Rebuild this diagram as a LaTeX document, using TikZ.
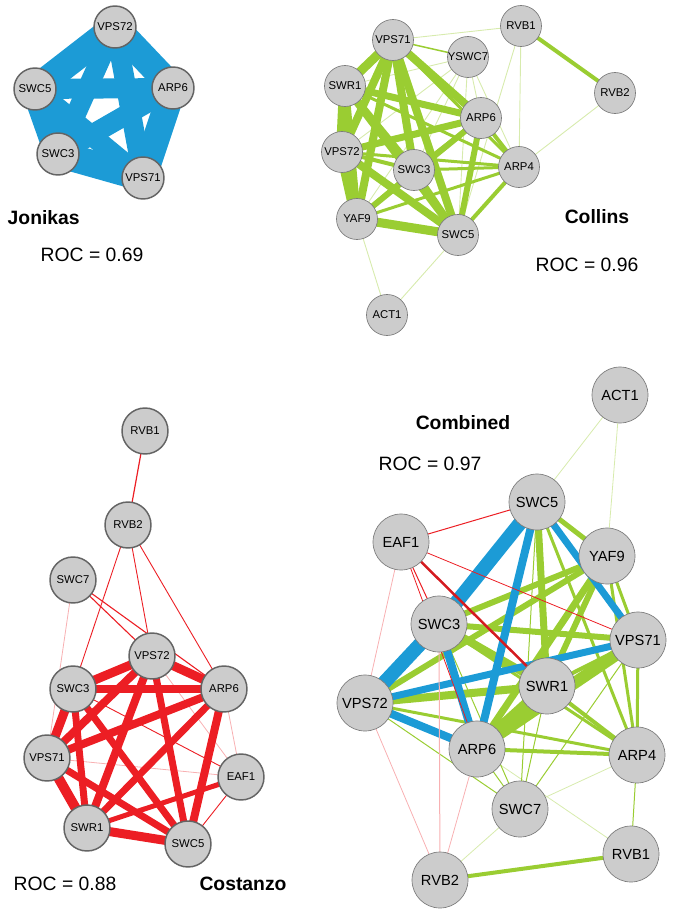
\documentclass[tikz,border=0pt]{standalone}
\usepackage{fontspec}
\setmainfont{Liberation Sans}
\usepackage{tikz}
\usetikzlibrary{backgrounds}
\usepackage{xcolor}
\definecolor{jonblue}{RGB}{28,155,214}
\definecolor{colgreen}{RGB}{154,205,50}
\definecolor{cosred}{RGB}{236,30,36}
\definecolor{nodegray}{RGB}{204,204,204}
\definecolor{rimgray}{RGB}{100,100,100}

\tikzset{
  gene/.style={circle, fill=nodegray, draw=rimgray, inner sep=0pt,
    font=\fontsize{8.5}{10}\selectfont},
  bigrim/.style={gene, line width=1.1pt, minimum size=#1},
  thinrim/.style={gene, draw=rimgray!85, line width=0.5pt, minimum size=#1},
  widegene/.style={thinrim=#1, font=\fontsize{11}{13}\selectfont},
  title/.style={font=\fontsize{14.5}{17}\selectfont\bfseries},
  roc/.style={font=\fontsize{14.5}{17}\selectfont},
  blu/.style={draw=jonblue, line width=#1*0.75pt},
  grn/.style={draw=colgreen, line width=#1*0.75pt},
  lgrn/.style={draw=colgreen!40, line width=#1*0.75pt},
  rd/.style={draw=cosred, line width=#1*0.75pt},
  lrd/.style={draw=cosred!35, line width=#1*0.75pt}
}

\begin{document}
\begin{tikzpicture}[x=0.75pt, y=-0.75pt]
  \useasboundingbox (0,0) rectangle (673,912);

  % Jonikas
  \foreach \n/\x/\y in {VPS72/115/27, SWC5/35/89, ARP6/173/88, SWC3/58/154, VPS71/143/178}
    \node[bigrim=31.5pt] (j\n) at (\x,\y) {\n};
  \node[title, anchor=west] (jonTitle) at (3,218) {Jonikas};
  \node[roc] (jonRoc) at (92,255) {ROC = 0.69};
  \begin{scope}[on background layer]
    \foreach \a/\b/\w in {VPS72/SWC5/27, VPS72/ARP6/27, ARP6/VPS71/27, VPS71/SWC3/27,
        SWC3/SWC5/27, VPS72/SWC3/20, VPS72/VPS71/20, SWC5/ARP6/20, SWC5/VPS71/20, ARP6/SWC3/20}
      \draw[blu=\w] (j\a.center) -- (j\b.center);
  \end{scope}

  % Collins
  \foreach \n/\x/\y in {VPS71/393/40, YSWC7/468/57, RVB1/521/26, RVB2/615/93, SWR1/345/86,
      ARP6/481/118, VPS72/342/152, SWC3/414/170, ARP4/519/167, YAF9/357/219,
      SWC5/458/235, ACT1/387/315}
    \node[thinrim=30.75pt] (c\n) at (\x,\y) {\n};
  \node[title] (colTitle) at (597,217) {Collins};
  \node[roc] (colRoc) at (587,265) {ROC = 0.96};
  \begin{scope}[on background layer]
    \foreach \a/\b in {VPS71/RVB1, YSWC7/SWR1, YSWC7/VPS72, YSWC7/SWC3, YSWC7/YAF9,
        YSWC7/ARP6, YSWC7/ARP4, YSWC7/SWC5, RVB1/ARP4, RVB1/SWC5, RVB2/ARP4,
        ACT1/YAF9, ACT1/SWC5}
      \draw[lgrn=0.9] (c\a.center) -- (c\b.center);
    \foreach \a/\b/\w in {VPS71/YSWC7/1.5, RVB1/RVB2/4,
        VPS71/SWR1/9, VPS71/VPS72/8, VPS71/YAF9/8, VPS71/SWC3/8, VPS71/SWC5/8,
        VPS71/ARP6/8, VPS71/ARP4/3, SWR1/VPS72/12, SWR1/YAF9/8, SWR1/SWC3/7,
        SWR1/SWC5/8, SWR1/ARP6/7, SWR1/ARP4/3, VPS72/YAF9/12, VPS72/SWC3/4,
        VPS72/SWC5/8, VPS72/ARP6/7, VPS72/ARP4/3, YAF9/SWC3/4, YAF9/SWC5/9,
        YAF9/ARP6/6, YAF9/ARP4/3, SWC3/SWC5/6, SWC3/ARP6/4, SWC3/ARP4/3,
        SWC5/ARP6/6, SWC5/ARP4/4, ARP6/ARP4/4}
      \draw[grn=\w] (c\a.center) -- (c\b.center);
  \end{scope}

  % Costanzo
  \foreach \n/\x/\y in {RVB1/145/431, RVB2/128/525, SWC7/73/580, VPS72/152/656,
      SWC3/73/689, ARP6/224/689, VPS71/47/758, EAF1/241/777, SWR1/87/828, SWC5/188/844}
    \node[bigrim=34.5pt] (k\n) at (\x,\y) {\n};
  \node[roc] (cosRoc) at (65,884) {ROC = 0.88};
  \node[title] (cosTitle) at (243,884) {Costanzo};
  \begin{scope}[on background layer]
    \foreach \a/\b in {SWC7/VPS71, VPS72/EAF1, ARP6/EAF1, VPS71/EAF1}
      \draw[lrd=0.8] (k\a.center) -- (k\b.center);
    \foreach \a/\b/\w in {RVB1/RVB2/1.2, RVB2/SWC3/0.9, RVB2/VPS72/0.9, RVB2/ARP6/0.9,
        SWC7/VPS72/1.1, SWC7/ARP6/1.1, SWC5/EAF1/0.9, SWC3/EAF1/0.9,
        VPS72/SWC3/9, VPS72/ARP6/9, VPS72/VPS71/8, VPS72/SWR1/8, VPS72/SWC5/7,
        SWC3/ARP6/8, SWC3/VPS71/9, SWC3/SWR1/7, SWC3/SWC5/7, ARP6/VPS71/8,
        ARP6/SWR1/7, ARP6/SWC5/8, VPS71/SWR1/10, VPS71/SWC5/7, SWR1/SWC5/9,
        SWR1/EAF1/5}
      \draw[rd=\w] (k\a.center) -- (k\b.center);
  \end{scope}

  % Combined
  \foreach \n/\x/\y in {ACT1/620/395, SWC5/537/502, EAF1/401/542, YAF9/607/556,
      SWC3/439/624, VPS71/638/640, SWR1/547/686, VPS72/365/703, ARP6/477/749,
      ARP4/637/755, SWC7/520/809, RVB1/631/854, RVB2/440/880}
    \node[widegene=42pt] (m\n) at (\x,\y) {\n};
  \node[title] (comTitle) at (463,423) {Combined};
  \node[roc] (comRoc) at (430,464) {ROC = 0.97};
  \begin{scope}[on background layer]
    \foreach \a/\b in {ARP6/RVB1, ARP4/SWC7, RVB2/SWC7, ACT1/SWC5, ACT1/YAF9}
      \draw[lgrn=0.8] (m\a.center) -- (m\b.center);
    \foreach \a/\b in {EAF1/VPS72, VPS72/RVB2, ARP6/RVB2}
      \draw[lrd=0.8] (m\a.center) -- (m\b.center);
    \foreach \a/\b/\w in {SWC5/SWC7/1, SWC3/SWC7/1, VPS71/SWC7/1, SWR1/SWC7/1,
        VPS72/SWC7/1, ARP6/SWC7/1, ARP4/RVB1/1, RVB1/RVB2/4,
        SWC5/YAF9/5, SWC5/SWR1/7, SWC5/ARP4/3, YAF9/SWC3/6, YAF9/VPS72/6,
        YAF9/SWR1/6, YAF9/ARP6/7, YAF9/VPS71/3, YAF9/ARP4/3, SWC3/VPS71/6,
        SWC3/SWR1/8, SWC3/ARP4/3, VPS71/SWR1/4, VPS71/ARP6/12, VPS71/ARP4/3,
        SWR1/ARP6/12, SWR1/ARP4/4, SWR1/VPS72/8, VPS72/ARP4/3, ARP6/ARP4/4}
      \draw[grn=\w] (m\a.center) -- (m\b.center);
    \foreach \a/\b/\w in {SWC5/SWC3/14, SWC3/VPS72/14, SWC5/ARP6/8, SWC3/ARP6/8,
        VPS72/ARP6/8, SWC5/VPS71/7, VPS72/VPS71/7}
      \draw[blu=\w] (m\a.center) -- (m\b.center);
    \foreach \a/\b/\w in {EAF1/SWC5/1, EAF1/VPS71/0.8, EAF1/SWC3/1, EAF1/ARP6/0.8}
      \draw[rd=\w] (m\a.center) -- (m\b.center);
    \draw[lrd=1] (mSWC3.center) -- (mRVB2.center);
    \draw[rd=2.5, draw=cosred!90!black] (mEAF1.center) -- (mSWR1.center);
  \end{scope}
\end{tikzpicture}
\end{document}
